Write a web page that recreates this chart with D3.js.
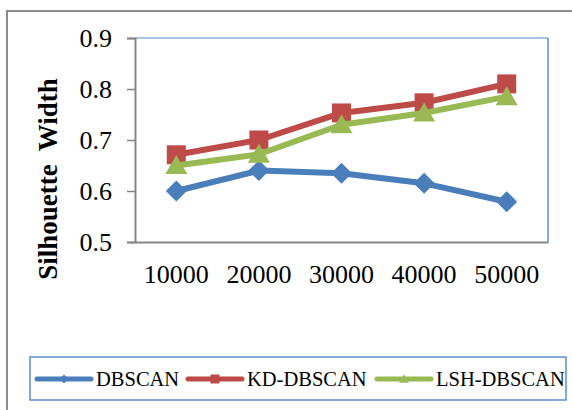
<!DOCTYPE html>
<html><head><meta charset="utf-8">
<script src="https://cdn.jsdelivr.net/npm/d3@7/dist/d3.min.js"></script>
<style>body{margin:0;background:#fff}svg{display:block}text{font-family:"Liberation Serif","Times New Roman",serif}</style>
</head><body>
<svg id="c" width="572" height="410"></svg>
<script>
const categories = ["10000","20000","30000","40000","50000"];
const dbscan = [0.600, 0.640, 0.635, 0.615, 0.579];
const kdDbscan = [0.671, 0.700, 0.753, 0.773, 0.810];
const lshDbscan = [0.650, 0.672, 0.730, 0.753, 0.785];
const yTicks = [0.5, 0.6, 0.7, 0.8, 0.9];
const seriesNames = ["DBSCAN","KD-DBSCAN","LSH-DBSCAN"];

const series = [
  {name: seriesNames[0], values: dbscan, color: "#4A7EBB", marker: "diamond"},
  {name: seriesNames[1], values: kdDbscan, color: "#BE4B48", marker: "square"},
  {name: seriesNames[2], values: lshDbscan, color: "#98B954", marker: "triangle"}
];

const svg = d3.select("#c");
// outer chart border
svg.append("rect").attr("x",7).attr("y",11).attr("width",600).attr("height",430)
  .attr("fill","none").attr("stroke","#8c8c8c").attr("stroke-width",2);

const L=135, T=38, R=548, B=242;
const x = d3.scaleBand().domain(categories).range([L,R]);
const y = d3.scaleLinear().domain([0.5,0.9]).range([B,T]);

// plot area border
svg.append("line").attr("x1",L).attr("x2",R).attr("y1",T).attr("y2",T).attr("stroke","#8fb0dc").attr("stroke-width",1.5);
svg.append("line").attr("x1",R).attr("x2",R).attr("y1",T).attr("y2",B).attr("stroke","#5b8ed0").attr("stroke-width",1.5);

const yAxis = svg.append("g").attr("transform",`translate(${L},0)`)
  .call(d3.axisLeft(y).tickValues(yTicks).tickFormat(d3.format(".1f")).tickSize(8).tickPadding(15));
yAxis.select(".domain").attr("stroke","#868686").attr("stroke-width",2);
yAxis.selectAll(".tick line").attr("stroke","#868686").attr("stroke-width",1.5);
yAxis.selectAll("text").attr("font-size",26).attr("fill","#000").attr("font-family","Liberation Serif");

const xAxis = svg.append("g").attr("transform",`translate(0,${B})`)
  .call(d3.axisBottom(x).tickSize(0).tickPadding(23));
xAxis.select(".domain").attr("stroke","#868686").attr("stroke-width",2);
xAxis.selectAll("text").attr("font-size",26).attr("fill","#000").attr("font-family","Liberation Serif");

svg.append("text").attr("transform",`translate(57,179) rotate(-90)`)
  .attr("text-anchor","middle").attr("font-size",27).attr("font-weight","bold")
  .attr("xml:space","preserve").style("white-space","pre").text("Silhouette  Width");

const cx = d => x(d) + x.bandwidth()/2;
const line = d3.line().x((d,i)=>cx(categories[i])).y(d=>y(d));

function markerPath(type, s){
  if(type==="diamond") return `M0,${-s}L${s},0L0,${s}L${-s},0Z`;
  if(type==="square") return `M${-s},${-s}H${s}V${s}H${-s}Z`;
  return `M0,${-s*1.05}L${s*1.1},${s*0.85}L${-s*1.1},${s*0.85}Z`;
}

series.forEach(s=>{
  const g = svg.append("g");
  g.append("path").datum(s.values).attr("d",line).attr("fill","none")
    .attr("stroke",s.color).attr("stroke-width",6).attr("stroke-linejoin","round");
  g.selectAll("path.m").data(s.values).join("path").attr("class","m")
    .attr("transform",(d,i)=>`translate(${cx(categories[i])},${y(d)})`)
    .attr("d",markerPath(s.marker, s.marker==="diamond"?10.5:(s.marker==="square"?9.5:10)))
    .attr("fill",s.color);
});

// legend
svg.append("rect").attr("x",30).attr("y",357).attr("width",536).attr("height",43)
  .attr("fill","#fff").attr("stroke","#5b8ed0").attr("stroke-width",1.5);
const legX = [37, 188, 377];
const legW = 54;
series.forEach((s,i)=>{
  const g = svg.append("g").attr("transform",`translate(${legX[i]},379)`);
  g.append("line").attr("x1",0).attr("x2",legW).attr("stroke",s.color).attr("stroke-width",5).attr("stroke-linecap","round");
  g.append("path").attr("transform",`translate(${legW/2},0)`).attr("d",markerPath(s.marker,4.5)).attr("fill",s.color);
  g.append("text").attr("x",legW+5).attr("y",7).attr("font-size",20.5).attr("fill","#000").text(s.name);
});
</script>
</body></html>
